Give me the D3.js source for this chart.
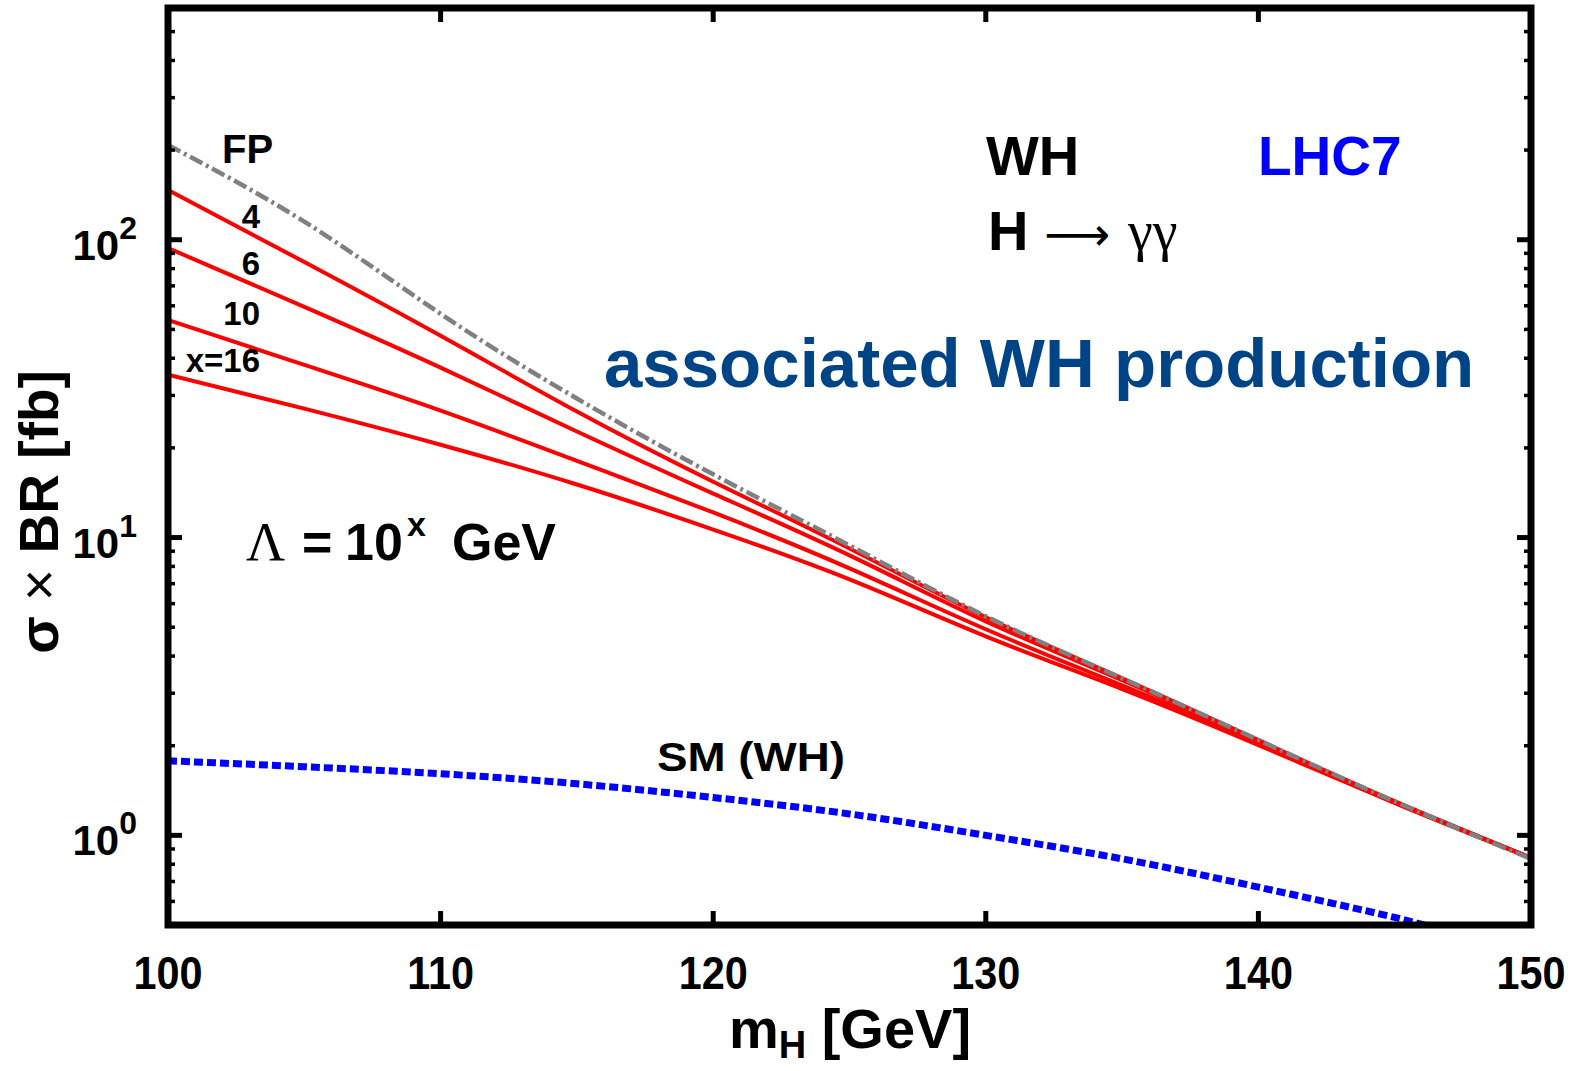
<!DOCTYPE html>
<html>
<head>
<meta charset="utf-8">
<script src="https://cdn.jsdelivr.net/npm/d3@7"></script>
<style>
  body { margin: 0; background: #fff; }
  svg { display: block; font-family: "Liberation Sans", Arial, sans-serif; }
</style>
</head>
<body>
<div id="chart"></div>
<script>
// Higgs mass grid [GeV]
var massGrid = [100, 105, 110, 115, 120, 125, 130, 135, 140, 145, 150];

// sigma x BR [fb]
var fpXsec  = [208, 115, 56.4, 29.3, 16.3, 9.41, 5.44, 3.37, 2.09, 1.30, 0.834];
var x4Xsec  = [146.8, 84.2, 47.6, 26.5, 15.4, 9.19, 5.40, 3.37, 2.09, 1.30, 0.84];
var x6Xsec  = [93.8, 59.5, 37.2, 22.7, 14.05, 8.71, 5.23, 3.32, 2.07, 1.30, 0.84];
var x10Xsec = [53.8, 38.0, 26.7, 18.1, 12.14, 7.88, 4.92, 3.19, 2.04, 1.285, 0.84];
var x16Xsec = [35.2, 27.1, 20.5, 15.07, 10.64, 7.24, 4.66, 3.10, 2.01, 1.285, 0.84];

var smMass = [100, 105, 110, 115, 120, 125, 130, 135, 140, 145, 147];
var smXsec = [1.78, 1.70, 1.61, 1.49, 1.34, 1.18, 1.00, 0.834, 0.67, 0.53, 0.47];

var xTicks = [100, 110, 120, 130, 140, 150];
var yTicks = [1, 10, 100];
var yTickExp = ["0", "1", "2"];
var curveLabels = ["4", "6", "10", "x=16"];

// margin setup
var margin = {top: 8, right: 55, bottom: 146, left: 168},
    width = 1586 - margin.left - margin.right,
    height = 1071 - margin.top - margin.bottom;

var svg = d3.select("#chart").append("svg")
    .attr("width", 1586)
    .attr("height", 1071);

var g = svg.append("g")
    .attr("transform", "translate(" + margin.left + "," + margin.top + ")");

var x = d3.scaleLinear().domain([100, 150]).range([0, width]);
var y = d3.scaleLog().domain([0.5, 600]).range([height, 0]);

g.append("clipPath").attr("id", "plotclip")
  .append("rect").attr("width", width).attr("height", height);

var line = d3.line()
    .x(function (d) { return x(d[0]); })
    .y(function (d) { return y(d[1]); })
    .curve(d3.curveNatural);

var curves = g.append("g").attr("clip-path", "url(#plotclip)");

// SM (blue dotted)
curves.append("path")
    .datum(d3.zip(smMass, smXsec))
    .attr("d", line)
    .attr("fill", "none")
    .attr("stroke", "#0000ff")
    .attr("stroke-width", 7)
    .attr("stroke-dasharray", "9,4");

// red curves for different cut-off scales
[x4Xsec, x6Xsec, x10Xsec, x16Xsec].forEach(function (vals) {
  curves.append("path")
      .datum(d3.zip(massGrid, vals))
      .attr("d", line)
      .attr("fill", "none")
      .attr("stroke", "#ff0000")
      .attr("stroke-width", 4);
});

// fermiophobic (grey dash-dot)
curves.append("path")
    .datum(d3.zip(massGrid, fpXsec))
    .attr("d", line)
    .attr("fill", "none")
    .attr("stroke", "#808080")
    .attr("stroke-width", 4.5)
    .attr("stroke-dasharray", "14,4,3,4");

// ticks
var ticks = g.append("g").attr("stroke", "#000");
xTicks.slice(1, -1).forEach(function (t) {
  ticks.append("line").attr("x1", x(t)).attr("x2", x(t))
      .attr("y1", height).attr("y2", height - 14).attr("stroke-width", 5);
  ticks.append("line").attr("x1", x(t)).attr("x2", x(t))
      .attr("y1", 0).attr("y2", 14).attr("stroke-width", 5);
});
var minor = [];
[0.1, 1, 10, 100].forEach(function (dec) {
  d3.range(1, 10).forEach(function (m) {
    var v = dec * m;
    if (v >= 0.5 && v <= 600) minor.push(v);
  });
});
minor.forEach(function (v) {
  var major = yTicks.indexOf(v) >= 0;
  var len = major ? 14 : 7;
  ticks.append("line").attr("x1", 0).attr("x2", len)
      .attr("y1", y(v)).attr("y2", y(v)).attr("stroke-width", major ? 5 : 3.5);
  ticks.append("line").attr("x1", width).attr("x2", width - len)
      .attr("y1", y(v)).attr("y2", y(v)).attr("stroke-width", major ? 5 : 3.5);
});

// frame
g.append("rect")
    .attr("width", width).attr("height", height)
    .attr("fill", "none").attr("stroke", "#000").attr("stroke-width", 7);

// x tick labels
g.selectAll(".xlab").data(xTicks).enter().append("text")
    .attr("class", "xlab")
    .attr("transform", function (d) { return "translate(" + x(d) + "," + (height + 64) + ") scale(0.9,1)"; })
    .attr("text-anchor", "middle")
    .style("font-size", "46px").style("font-weight", "bold")
    .text(function (d) { return d; });

// y tick labels
yTicks.forEach(function (t, i) {
  var txt = g.append("text")
      .attr("x", -31).attr("y", y(t) + 20)
      .attr("text-anchor", "end")
      .style("font-weight", "bold");
  txt.append("tspan").style("font-size", "42px").text("10");
  txt.append("tspan").style("font-size", "32px").attr("dy", -21).text(yTickExp[i]);
});

// axis titles
var xt = svg.append("text")
    .attr("x", 850).attr("y", 1048)
    .attr("text-anchor", "middle")
    .style("font-size", "56px").style("font-weight", "bold");
xt.append("tspan").text("m");
xt.append("tspan").style("font-size", "38px").attr("dy", 10).text("H");
xt.append("tspan").attr("dy", -10).text(" [GeV]");

var yt = svg.append("text")
    .attr("transform", "translate(58,512) rotate(-90)")
    .attr("text-anchor", "middle")
    .style("font-size", "55px").style("font-weight", "bold");
yt.append("tspan").text("σ");
yt.append("tspan").style("font-weight", "normal").text(" × ");
yt.append("tspan").text("BR [fb]");

// annotations
svg.append("text").attr("x", 222).attr("y", 163)
    .style("font-size", "40px").style("font-weight", "bold").text("FP");

var labelY = [228, 275, 325, 372];
curveLabels.forEach(function (t, i) {
  svg.append("text").attr("x", 260).attr("y", labelY[i])
      .attr("text-anchor", "end")
      .style("font-size", "33px").style("font-weight", "bold").text(t);
});

svg.append("text").attr("x", 986).attr("y", 175)
    .style("font-size", "56px").style("font-weight", "bold").text("WH");

svg.append("text").attr("x", 1258).attr("y", 175)
    .style("font-size", "55px").style("font-weight", "bold")
    .attr("fill", "#0000ff").text("LHC7");

var hg = svg.append("text").attr("y", 250).style("font-size", "56px");
hg.append("tspan").attr("x", 988).style("font-weight", "bold").text("H");
hg.append("tspan").attr("x", 1044).style("font-family", "DejaVu Sans")
    .style("font-size", "46px").text("⟶");
hg.append("tspan").attr("x", 1128).style("font-family", "Liberation Serif").text("γγ");

svg.append("text").attr("x", 604).attr("y", 387)
    .style("font-size", "69px").style("font-weight", "bold")
    .attr("fill", "#004488").text("associated WH production");

var lam = svg.append("text").attr("y", 560)
    .style("font-size", "52px").style("font-weight", "bold");
lam.append("tspan").attr("x", 246).style("font-family", "Liberation Serif").style("font-weight", "normal")
    .style("font-size", "54px").text("Λ");
lam.append("tspan").attr("x", 302).text("=");
lam.append("tspan").attr("x", 345).text("10");
lam.append("tspan").attr("x", 407).style("font-size", "34px").attr("dy", -24).text("x");
lam.append("tspan").attr("x", 452).attr("dy", 24).text("GeV");

svg.append("text").attr("x", 657).attr("y", 771)
    .style("font-size", "40px").style("font-weight", "bold")
    .attr("textLength", 188).attr("lengthAdjust", "spacingAndGlyphs")
    .text("SM (WH)");
</script>
</body>
</html>
